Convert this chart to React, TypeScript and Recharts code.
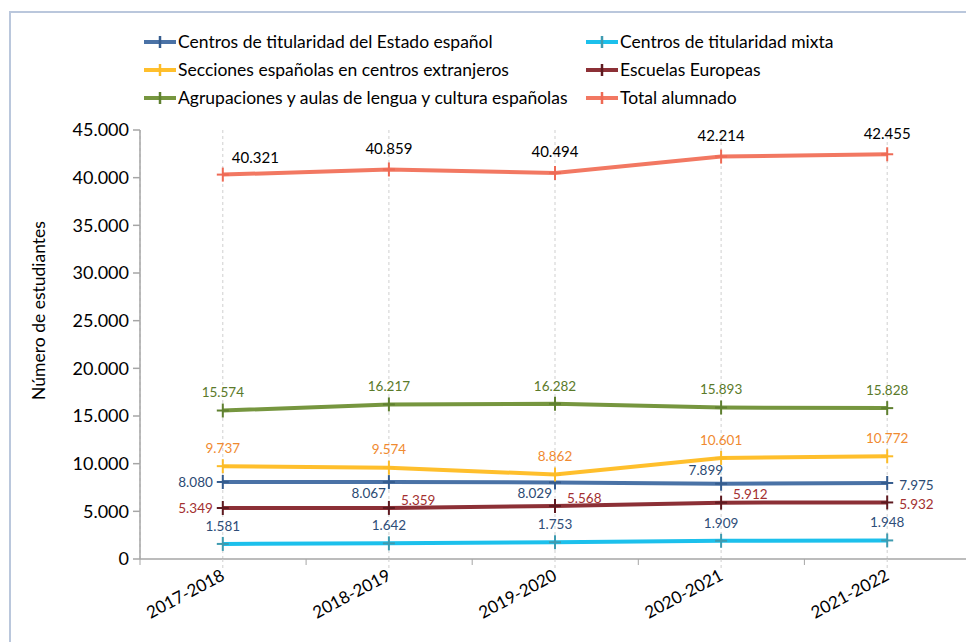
import { LineChart, Line, XAxis, YAxis, CartesianGrid, LabelList } from "recharts";

const cursos = ["2017-2018", "2018-2019", "2019-2020", "2020-2021", "2021-2022"];
const estado = [8080, 8067, 8029, 7899, 7975];
const mixta = [1581, 1642, 1753, 1909, 1948];
const secciones = [9737, 9574, 8862, 10601, 10772];
const europeas = [5349, 5359, 5568, 5912, 5932];
const agrupaciones = [15574, 16217, 16282, 15893, 15828];
const total = [40321, 40859, 40494, 42214, 42455];
const yTicks = [0, 5000, 10000, 15000, 20000, 25000, 30000, 35000, 40000, 45000];

const FONT = "Lato, 'Noto Sans', sans-serif";
const BAND = 82.8;

const data = cursos.map((c, i) => ({
  curso: c,
  estado: estado[i],
  mixta: mixta[i],
  secciones: secciones[i],
  europeas: europeas[i],
  agrupaciones: agrupaciones[i],
  total: total[i],
}));

// where each value label sits relative to its point
type Place = "above" | "aboveRight" | "aboveLeft" | "left" | "right" | "belowLeft" | "upRight";
const series: {
  key: string;
  name: string;
  line: string;
  mark: string;
  label: string;
  size: number;
  places: Place[];
}[] = [
  { key: "estado", name: "Centros de titularidad del Estado español", line: "#4a72a6", mark: "#355c8e", label: "#2b4a73", size: 13.5, places: ["left", "belowLeft", "belowLeft", "aboveLeft", "right"] },
  { key: "mixta", name: "Centros de titularidad mixta", line: "#1cc0ec", mark: "#3e9bb0", label: "#2e4d78", size: 13.5, places: ["above", "above", "above", "above", "above"] },
  { key: "secciones", name: "Secciones españolas en centros extranjeros", line: "#ffbf2c", mark: "#fcbc28", label: "#f08a30", size: 13.5, places: ["above", "above", "above", "above", "above"] },
  { key: "europeas", name: "Escuelas Europeas", line: "#8c3036", mark: "#5e1a20", label: "#a33030", size: 13.5, places: ["left", "upRight", "upRight", "upRight", "right"] },
  { key: "agrupaciones", name: "Agrupaciones y aulas de lengua y cultura españolas", line: "#76963f", mark: "#5f8030", label: "#5b7a2a", size: 13.5, places: ["above", "above", "above", "above", "above"] },
  { key: "total", name: "Total alumnado", line: "#f27862", mark: "#ee6a55", label: "#000000", size: 15, places: ["aboveRight", "above", "above", "above", "above"] },
];

const fmt = (v: number) => String(v).replace(/\B(?=(\d{3})+(?!\d))/g, ".");

function Cross({ cx, cy, color }: { cx?: number; cy?: number; color: string }) {
  if (cx == null || cy == null) return null;
  return (
    <g stroke={color} strokeWidth={2}>
      <line x1={cx - 6} y1={cy} x2={cx + 6} y2={cy} />
      <line x1={cx} y1={cy - 7} x2={cx} y2={cy + 7} />
    </g>
  );
}

function makeLabel(places: Place[], color: string, size: number) {
  return (props: any) => {
    const { x, y, value, index } = props;
    const p = places[index];
    let dx = 0;
    let dy = -18;
    let anchor: "middle" | "start" | "end" = "middle";
    if (p === "aboveRight") { dx = 9; dy = -17; anchor = "start"; }
    if (p === "aboveLeft") { dx = 2; dy = -13; anchor = "end"; }
    if (p === "left") { dx = -10; dy = 0; anchor = "end"; }
    if (p === "right") { dx = 12; dy = 2; anchor = "start"; }
    if (p === "belowLeft") { dx = -3; dy = 11; anchor = "end"; }
    if (p === "upRight") { dx = 12; dy = -8; anchor = "start"; }
    if (p === "above" && size > 14) dy = -21;
    return (
      <text x={x + dx} y={y + dy} dy="0.35em" textAnchor={anchor} fill={color} fontSize={size} fontFamily={FONT}>
        {fmt(value)}
      </text>
    );
  };
}

function CursoTick(props: any) {
  const { x, y, payload, index } = props;
  const axisY = y - 8;
  return (
    <g>
      <line x1={x} y1={axisY} x2={x} y2={axisY + 10} stroke="#cfcfcf" strokeDasharray="3 3" />
      <line x1={x - BAND} y1={axisY} x2={x - BAND} y2={axisY + 6} stroke="#a6a6a6" />
      {index === cursos.length - 1 && (
        <line x1={x + BAND} y1={axisY} x2={x + BAND} y2={axisY + 6} stroke="#a6a6a6" />
      )}
      <text
        transform={`translate(${x + 3},${y + 12}) rotate(-28)`}
        textAnchor="end"
        fontSize={17}
        fontFamily={FONT}
        fill="#000"
      >
        {payload.value}
      </text>
    </g>
  );
}

function YTitle(props: any) {
  const vb = props.viewBox;
  const cx = 37;
  const cy = vb.y + vb.height / 2 - 34;
  return (
    <text
      transform={`translate(${cx},${cy}) rotate(-90)`}
      textAnchor="middle"
      fontSize={17.5}
      fontFamily={FONT}
      fill="#000"
    >
      Número de estudiantes
    </text>
  );
}

function LegendMark({ line, mark }: { line: string; mark: string }) {
  return (
    <svg width={34} height={14} style={{ flex: "none" }}>
      <line x1={1} y1={7} x2={33} y2={7} stroke={line} strokeWidth={4} />
      <line x1={17} y1={1} x2={17} y2={13} stroke={mark} strokeWidth={2.5} />
    </svg>
  );
}

export default function App() {
  const legendCols = [135, 577];
  return (
    <div style={{ position: "relative", width: 966, height: 634, overflow: "hidden", fontFamily: FONT }}>
      <div
        style={{
          position: "absolute",
          left: 1,
          top: 3,
          width: 1200,
          height: 1200,
          border: "2px solid #bac7dc",
        }}
      />
      {series.map((s, i) => (
        <div
          key={s.key}
          style={{
            position: "absolute",
            left: legendCols[i % 2],
            top: 24 + Math.floor(i / 2) * 28,
            display: "flex",
            alignItems: "center",
            fontSize: 17.5,
            color: "#000",
            whiteSpace: "nowrap",
            lineHeight: "20px",
          }}
        >
          <LegendMark line={s.line} mark={s.mark} />
          <span style={{ marginLeft: 1 }}>{s.name}</span>
        </div>
      ))}
      <LineChart
        width={966}
        height={634}
        data={data}
        margin={{ top: 122, right: 4, bottom: 3, left: 2 }}
        style={{ position: "absolute", left: 0, top: 0 }}
      >
        <CartesianGrid vertical horizontal={false} stroke="#cfcfcf" strokeDasharray="3 3" />
        <XAxis
          dataKey="curso"
          padding={{ left: BAND, right: BAND }}
          height={80}
          stroke="#a6a6a6"
          strokeWidth={1.5}
          tickLine={false}
          tick={<CursoTick />}
          interval={0}
        />
        <YAxis
          width={130}
          domain={[0, 45000]}
          ticks={yTicks}
          interval={0}
          tickFormatter={fmt}
          stroke="#a6a6a6"
          strokeWidth={1.5}
          tickSize={7}
          tickMargin={4}
          tick={{ fill: "#000", fontSize: 18, fontFamily: FONT }}
          label={<YTitle />}
        />
        {series.map((s) => (
          <Line
            key={s.key}
            dataKey={s.key}
            stroke={s.line}
            strokeWidth={4}
            isAnimationActive={false}
            dot={<Cross color={s.mark} />}
            activeDot={false}
          >
            <LabelList dataKey={s.key} content={makeLabel(s.places, s.label, s.size)} />
          </Line>
        ))}
      </LineChart>
    </div>
  );
}
